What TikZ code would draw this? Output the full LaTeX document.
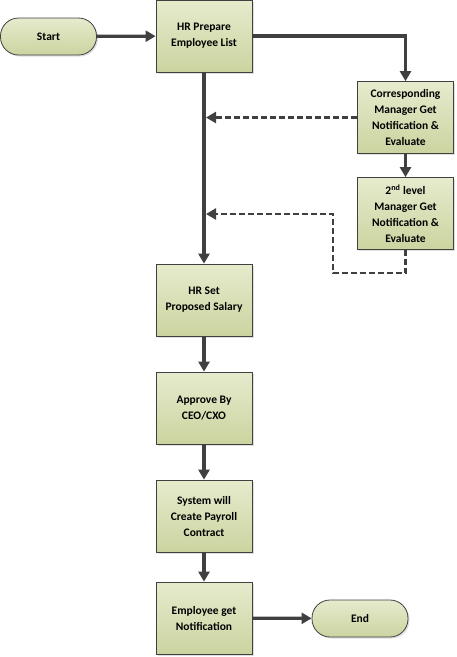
\documentclass[tikz,border=0pt]{standalone}
\usepackage{fontspec}
\setmainfont{Carlito}
\usetikzlibrary{arrows.meta, shadows}
\definecolor{boxline}{HTML}{404040}
\definecolor{boxtop}{HTML}{E6EBCD}
\definecolor{boxbot}{HTML}{CBD4A0}
\begin{document}
\begin{tikzpicture}[x=1pt, y=-1pt,
    stepbox/.style={rectangle, draw=boxline, line width=0.8pt, top color=boxtop, bottom color=boxbot,
        minimum width=96pt, minimum height=72pt, align=center, inner sep=1pt,
        font=\fontsize{11.5}{16}\selectfont\bfseries, drop shadow={opacity=0.25, shadow xshift=1.5pt, shadow yshift=-1.5pt}},
    termbox/.style={stepbox, rounded corners=18pt, minimum width=96pt, minimum height=37pt},
    flow/.style={draw=boxline, line width=3.2pt, -{Triangle[length=10pt, width=11pt]}},
    back/.style={draw=boxline, line width=2.6pt, dash pattern=on 6pt off 3pt, -{Triangle[length=10pt, width=11pt]}}]
                            \useasboundingbox (0,0) rectangle (456,657);

                            \node (start)[termbox] at (48.5, 36.5) {Start};
                            \node (prepare)[stepbox] at (204, 36) {HR Prepare\\Employee List};
                            \node (mgr)[stepbox] at (405.5, 117.5) {Corresponding\\Manager Get\\Notification \&\\Evaluate};
                            \node (mgrtwo)[stepbox] at (405.5, 213.5) {2\textsuperscript{nd} level\\Manager Get\\Notification \&\\Evaluate};
                            \node (salary)[stepbox] at (204, 300) {HR Set\\Proposed Salary};
                            \node (approve)[stepbox] at (204, 408) {Approve By\\CEO/CXO};
                            \node (payroll)[stepbox] at (204, 516) {System will\\Create Payroll\\Contract};
                            \node (notify)[stepbox] at (204, 618) {Employee get\\Notification};
                            \node (end)[termbox] at (360, 618.5) {End};

                            \coordinate (backone) at (206, 117.5);
                            \coordinate (backtwo) at (206, 214);
                            \coordinate (loop) at (333, 273);

                            \draw[flow] (start) -- (prepare);
                            \draw[flow] (prepare.east) -| (mgr.north);
                            \draw[flow] (prepare) -- (salary);
                            \draw[flow] (mgr) -- (mgrtwo);
                            \draw[back] (mgr.west) -- (backone);
                            \draw[back] (mgrtwo.south) |- (loop) |- (backtwo);
                            \draw[flow] (salary) -- (approve);
                            \draw[flow] (approve) -- (payroll);
                            \draw[flow] (payroll) -- (notify);
                            \draw[flow] (notify) -- (end);

                        \end{tikzpicture}
\end{document}
